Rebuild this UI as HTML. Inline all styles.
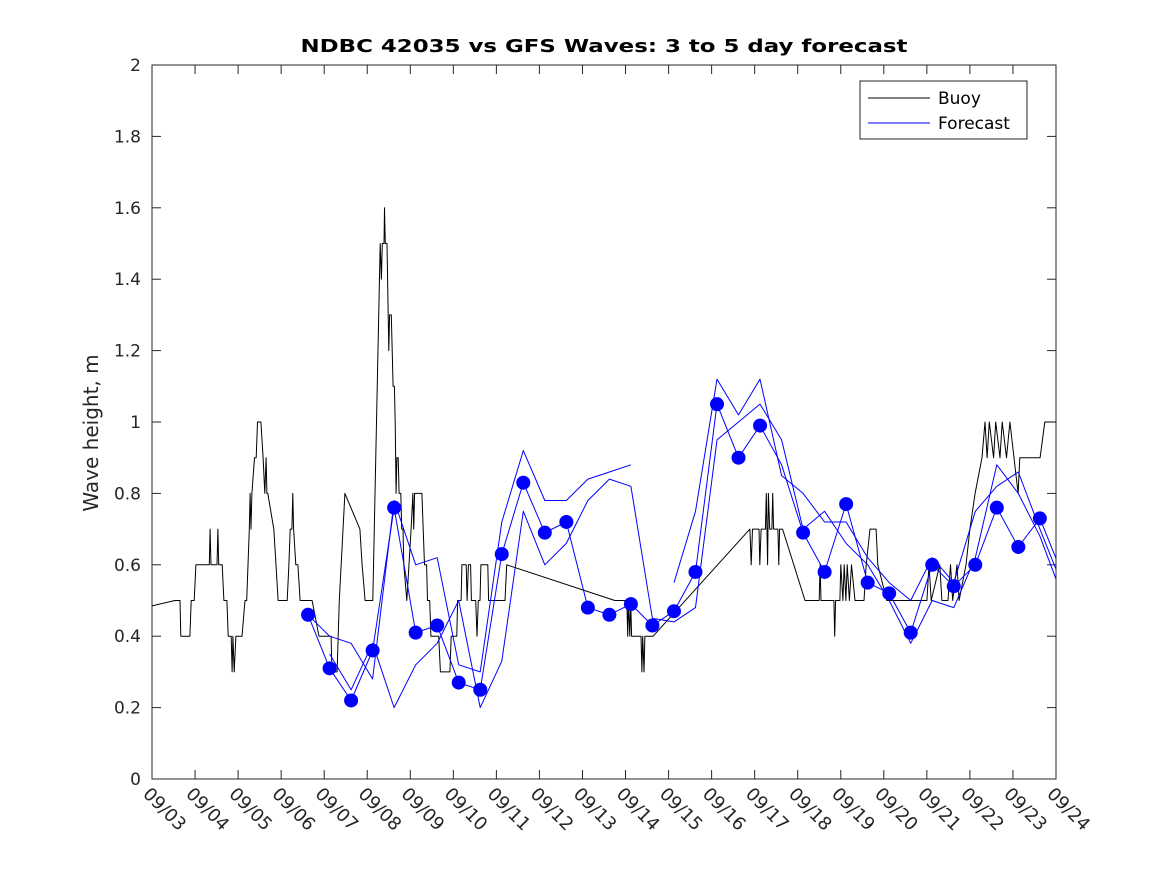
<!DOCTYPE html>
<html><head><meta charset="utf-8"><style>
body{margin:0;background:#fff;}
svg{display:block;font-family:"DejaVu Sans","Liberation Sans",sans-serif;}
</style></head><body>
<svg id="chart" width="1167" height="875" xmlns="http://www.w3.org/2000/svg">
<defs><clipPath id="clip"><rect x="152" y="65" width="904" height="714"/></clipPath></defs>
<rect x="0" y="0" width="1167" height="875" fill="#fff"/>
<text x="604" y="52" text-anchor="middle" font-size="18" font-weight="bold" fill="#000" textLength="607" lengthAdjust="spacingAndGlyphs">NDBC 42035 vs GFS Waves: 3 to 5 day forecast</text>
<text transform="translate(98,433) rotate(-90)" text-anchor="middle" font-size="20" fill="#262626">Wave height, m</text>
<g id="axes"></g>
<g id="plot" clip-path="url(#clip)"></g>
<g id="legend">
<rect x="860" y="81" width="167" height="58" fill="#fff" stroke="#262626" stroke-width="1"/>
<g><line x1="868" y1="98" x2="930" y2="98" stroke="#000" stroke-width="1"/><text x="938" y="104" font-size="17" fill="#000">Buoy</text></g>
<g><line x1="868" y1="123" x2="930" y2="123" stroke="#00f" stroke-width="1"/><text x="938" y="129" font-size="17" fill="#000">Forecast</text></g>
</g>
</svg>
<script>
const xTickLabels=["09/03","09/04","09/05","09/06","09/07","09/08","09/09","09/10","09/11","09/12","09/13","09/14","09/15","09/16","09/17","09/18","09/19","09/20","09/21","09/22","09/23","09/24"];
const yTicks=[0,0.2,0.4,0.6,0.8,1,1.2,1.4,1.6,1.8,2];
const yTickLabels=["0","0.2","0.4","0.6","0.8","1","1.2","1.4","1.6","1.8","2"];
const buoyT=[0,0.53,0.65,0.67,0.88,0.91,0.98,1.02,1.33,1.35,1.37,1.51,1.53,1.55,1.63,1.67,1.74,1.77,1.84,1.86,1.88,1.91,1.95,2.09,2.16,2.2,2.23,2.26,2.28,2.3,2.32,2.38,2.42,2.45,2.53,2.58,2.62,2.65,2.67,2.69,2.83,2.88,2.93,3.14,3.18,3.21,3.25,3.27,3.29,3.34,3.39,3.44,3.72,3.88,4.16,4.18,4.3,4.35,4.48,4.83,4.88,4.95,5.13,5.3,5.33,5.35,5.39,5.4,5.42,5.46,5.5,5.52,5.56,5.6,5.63,5.65,5.67,5.69,5.72,5.74,5.78,5.8,5.83,5.85,5.92,5.97,6.02,6.06,6.08,6.1,6.27,6.3,6.33,6.38,6.4,6.45,6.48,6.66,6.7,6.92,6.95,7.08,7.1,7.18,7.2,7.3,7.32,7.35,7.4,7.42,7.52,7.55,7.58,7.62,7.64,7.8,7.82,8.2,8.24,10.75,11.03,11.05,11.07,11.1,11.12,11.14,11.36,11.38,11.4,11.43,11.45,11.64,13.89,13.92,13.95,14.1,14.12,14.15,14.25,14.27,14.3,14.32,14.35,14.4,14.42,14.44,14.54,14.56,14.58,14.65,15.17,15.5,15.52,15.54,15.84,15.86,15.88,15.98,16.0,16.05,16.08,16.12,16.15,16.2,16.25,16.33,16.54,16.59,16.68,16.82,16.86,17.07,18.0,18.05,18.1,18.3,18.35,18.49,18.55,18.6,18.7,18.75,18.91,19.0,19.12,19.28,19.35,19.4,19.45,19.55,19.6,19.7,19.75,19.85,19.93,20.12,20.16,20.63,20.74,21];
const buoyV=[0.485,0.5,0.5,0.4,0.4,0.5,0.5,0.6,0.6,0.7,0.6,0.6,0.7,0.6,0.6,0.5,0.5,0.4,0.4,0.3,0.4,0.3,0.4,0.4,0.5,0.5,0.6,0.7,0.8,0.7,0.8,0.9,0.9,1.0,1.0,0.9,0.8,0.9,0.8,0.8,0.7,0.6,0.5,0.5,0.6,0.7,0.7,0.8,0.7,0.6,0.6,0.5,0.5,0.4,0.4,0.3,0.3,0.5,0.8,0.7,0.6,0.5,0.5,1.5,1.4,1.5,1.5,1.6,1.5,1.5,1.2,1.3,1.3,1.1,1.1,1.0,0.8,0.9,0.9,0.8,0.8,0.7,0.7,0.6,0.5,0.6,0.7,0.8,0.7,0.8,0.8,0.7,0.6,0.6,0.5,0.5,0.4,0.4,0.3,0.3,0.4,0.4,0.5,0.5,0.6,0.6,0.5,0.6,0.6,0.5,0.5,0.4,0.5,0.5,0.6,0.6,0.5,0.5,0.6,0.5,0.5,0.4,0.5,0.4,0.5,0.4,0.4,0.3,0.4,0.3,0.4,0.4,0.7,0.6,0.7,0.7,0.6,0.7,0.7,0.8,0.6,0.8,0.7,0.7,0.8,0.7,0.7,0.6,0.7,0.7,0.5,0.5,0.6,0.5,0.5,0.4,0.5,0.5,0.6,0.5,0.6,0.5,0.6,0.5,0.6,0.5,0.5,0.6,0.7,0.7,0.6,0.5,0.5,0.6,0.5,0.6,0.5,0.5,0.6,0.5,0.6,0.5,0.6,0.7,0.8,0.9,1.0,0.9,1.0,0.9,1.0,0.9,1.0,0.9,1.0,0.8,0.9,0.9,1.0,1.0];
const fcDays=[3.625,4.125,4.625,5.125,5.625,6.125,6.625,7.125,7.625,8.125,8.625,9.125,9.625,10.125,10.625,11.125,11.625,12.125,12.625,13.125,13.625,14.125,14.625,15.125,15.625,16.125,16.625,17.125,17.625,18.125,18.625,19.125,19.625,20.125,20.625,21.125];
const fcA=[0.46,0.31,0.22,0.36,0.76,0.41,0.43,0.27,0.25,0.63,0.83,0.69,0.72,0.48,0.46,0.49,0.43,0.47,0.58,1.05,0.9,0.99,0.88,0.69,0.58,0.77,0.55,0.52,0.41,0.6,0.54,0.6,0.76,0.65,0.73,0.58];
const fcB=[0.46,0.40,0.38,0.28,0.78,0.60,0.62,0.32,0.30,0.72,0.92,0.78,0.78,0.84,0.86,0.88,null,0.55,0.75,1.12,1.02,1.12,0.85,0.80,0.72,0.72,0.62,0.55,0.50,0.62,0.55,0.75,0.82,0.86,0.70,0.55];
const fcC=[null,0.35,0.25,0.38,0.20,0.32,0.38,0.50,0.20,0.33,0.75,0.60,0.66,0.78,0.84,0.82,0.45,0.44,0.48,0.95,1.00,1.05,0.95,0.70,0.75,0.66,0.60,0.50,0.38,0.50,0.48,0.62,0.88,0.80,0.68,0.52];
const markerDays=[3.625,4.125,4.625,5.125,5.625,6.125,6.625,7.125,7.625,8.125,8.625,9.125,9.625,10.125,10.625,11.125,11.625,12.125,12.625,13.125,13.625,14.125,15.125,15.625,16.125,16.625,17.125,17.625,18.125,18.625,19.125,19.625,20.125,20.625];
const markerVals=[0.46,0.31,0.22,0.36,0.76,0.41,0.43,0.27,0.25,0.63,0.83,0.69,0.72,0.48,0.46,0.49,0.43,0.47,0.58,1.05,0.9,0.99,0.69,0.58,0.77,0.55,0.52,0.41,0.6,0.54,0.6,0.76,0.65,0.73];

const X0=152,X1=1056,Y0=779,Y1=65;
const xs=d=>X0+d*(X1-X0)/21;
const ys=v=>Y0-v*(Y0-Y1)/2;
const NS="http://www.w3.org/2000/svg";
function mk(tag,attrs,parent){const e=document.createElementNS(NS,tag);for(const k in attrs)e.setAttribute(k,attrs[k]);parent.appendChild(e);return e;}
const axes=document.getElementById('axes');
const plot=document.getElementById('plot');
const box=mk('rect',{x:X0,y:Y1,width:X1-X0,height:Y0-Y1,fill:'none',stroke:'#262626','stroke-width':1},axes);


yTicks.forEach((v,i)=>{
  const y=ys(v);
  mk('line',{x1:X0,y1:y,x2:X0+9,y2:y,stroke:'#262626'},axes);
  mk('line',{x1:X1,y1:y,x2:X1-9,y2:y,stroke:'#262626'},axes);
  const t=mk('text',{x:X0-11,y:y+6,'text-anchor':'end','font-size':17,fill:'#262626'},axes);
  t.textContent=yTickLabels[i];
  
  
});
xTickLabels.forEach((lab,i)=>{
  const x=xs(i);
  mk('line',{x1:x,y1:Y0,x2:x,y2:Y0-9,stroke:'#262626'},axes);
  mk('line',{x1:x,y1:Y1,x2:x,y2:Y1+9,stroke:'#262626'},axes);
  const t=mk('text',{transform:`translate(${x-10},${Y0+16}) rotate(45)`,'font-size':18,fill:'#262626'},axes);
  t.textContent=lab;
  
  
});
function poly(ts,vs,color,name){
  let segs=[],cur=[];
  ts.forEach((t,i)=>{const v=vs[i];if(v===null||v===undefined){if(cur.length)segs.push(cur);cur=[];}else cur.push(xs(t).toFixed(1)+','+ys(v).toFixed(1));});
  if(cur.length)segs.push(cur);
  segs.forEach(s=>{
    const p=mk('polyline',{points:s.join(' '),fill:'none',stroke:color,'stroke-width':1,'stroke-linejoin':'round'},plot);
    
    
  });
}
poly(buoyT,buoyV,'#000','buoy-line');
poly(fcDays,fcA,'#00f','forecast-line-a');
poly(fcDays,fcB,'#00f','forecast-line-b');
poly(fcDays,fcC,'#00f','forecast-line-c');
markerDays.forEach((d,i)=>{
  const c=mk('circle',{cx:xs(d),cy:ys(markerVals[i]),r:7,fill:'#00f'},document.getElementById('chart'));
  
  
});
</script>
</body></html>
